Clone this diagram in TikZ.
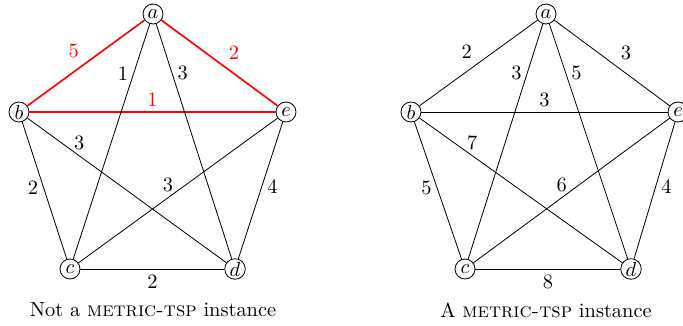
\documentclass[tikz,border=0pt]{standalone}
\begin{document}
\begin{tikzpicture}[x=0.49pt,y=-0.49pt,
  vtx/.style={circle,draw,line width=0.4pt,inner sep=0.5pt,minimum size=9.8pt},
  edg/.style={draw,line width=0.4pt},
  redg/.style={draw,red,line width=0.8pt},
  every node/.append style={inner sep=2.5pt}]
\useasboundingbox (0,0) rectangle (683,326);
% ---------- left graph ----------
\node[vtx] (a1) at (153,14) {$a$};
\node[vtx] (b1) at (19,112) {$b$};
\node[vtx] (c1) at (70,269) {$c$};
\node[vtx] (d1) at (235,269) {$d$};
\node[vtx] (e1) at (286,112) {$e$};
\draw[redg] (a1) -- node[pos=.51,above left] {5} (b1);
\draw[redg] (a1) -- node[pos=.53,above right] {2} (e1);
\draw[redg] (b1) -- node[pos=.5,above] {1} (e1);
\draw[edg] (a1) -- node[pos=.21,left] {1} (c1);
\draw[edg] (a1) -- node[pos=.21,right] {3} (d1);
\draw[edg] (b1) -- node[pos=.26,above] {3} (d1);
\draw[edg] (c1) -- node[pos=.45,above] {3} (e1);
\draw[edg] (b1) -- node[pos=.48,left] {2} (c1);
\draw[edg] (e1) -- node[pos=.47,right] {4} (d1);
\draw[edg] (c1) -- node[pos=.5,below] {2} (d1);
\node (cap1) at (153,310) {Not a \textsc{metric-tsp} instance};
% ---------- right graph ----------
\node[vtx] (a2) at (546,14) {$a$};
\node[vtx] (b2) at (411,112) {$b$};
\node[vtx] (c2) at (465,269) {$c$};
\node[vtx] (d2) at (631,269) {$d$};
\node[vtx] (e2) at (678,112) {$e$};
\draw[edg] (a2) -- node[pos=.51,above left] {2} (b2);
\draw[edg] (a2) -- node[pos=.53,above right] {3} (e2);
\draw[edg] (b2) -- node[pos=.5,above] {3} (e2);
\draw[edg] (a2) -- node[pos=.21,left] {3} (c2);
\draw[edg] (a2) -- node[pos=.21,right] {5} (d2);
\draw[edg] (b2) -- node[pos=.26,above] {7} (d2);
\draw[edg] (c2) -- node[pos=.45,above] {6} (e2);
\draw[edg] (b2) -- node[pos=.48,left] {5} (c2);
\draw[edg] (e2) -- node[pos=.47,right] {4} (d2);
\draw[edg] (c2) -- node[pos=.5,below] {8} (d2);
\node (cap2) at (546,310) {A \textsc{metric-tsp} instance};
\end{tikzpicture}
\end{document}
